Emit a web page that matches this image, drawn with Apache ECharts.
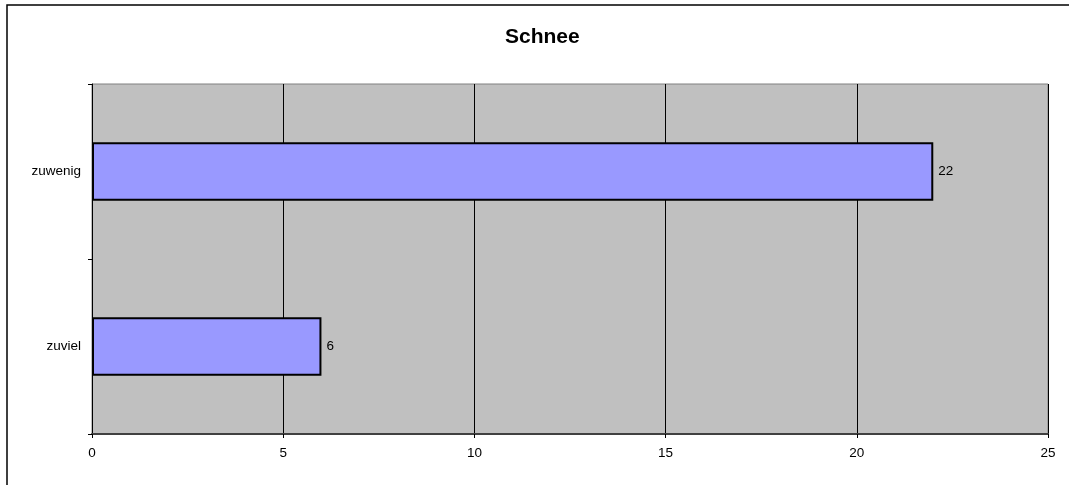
<!DOCTYPE html>
<html>
<head>
<meta charset="utf-8">
<script src="https://cdn.jsdelivr.net/npm/echarts@6/dist/echarts.min.js"></script>
<style>
  html, body { margin: 0; padding: 0; background: #fff; }
  #chart { width: 1069px; height: 485px; }
</style>
</head>
<body>
<div id="chart"></div>
<script>
// Chart data
const title = 'Schnee';
const categories = ['zuviel', 'zuwenig'];
const values = [6, 22];
const xTicks = { min: 0, max: 25, interval: 5 };

const chart = echarts.init(document.getElementById('chart'));
const font = 'Arial, "Liberation Sans", sans-serif';
const labelSize = 13.5;

chart.setOption({
  animation: false,
  backgroundColor: '#ffffff',
  title: {
    text: title,
    left: 500,
    top: 22,
    textStyle: { fontFamily: font, fontSize: 21, fontWeight: 'bold', color: '#000' }
  },
  graphic: [{
    // outer frame around the chart area
    type: 'rect',
    shape: { x: 7, y: 5, width: 1200, height: 600 },
    style: { fill: 'none', stroke: '#000', lineWidth: 1.5 },
    silent: true,
    z: -1
  }],
  grid: {
    left: 92, top: 84, right: 21, bottom: 51,
    show: true,
    backgroundColor: '#C0C0C0',
    borderColor: '#808080',
    borderWidth: 1
  },
  xAxis: {
    type: 'value',
    min: xTicks.min, max: xTicks.max, interval: xTicks.interval,
    axisLine: { show: true, lineStyle: { color: '#404040', width: 2 } },
    axisTick: { show: true, length: 4, lineStyle: { color: '#000' } },
    axisLabel: { margin: 12, fontFamily: font, fontSize: labelSize, color: '#000' },
    splitLine: { show: true, lineStyle: { color: '#000', width: 1 } }
  },
  yAxis: {
    type: 'category',
    data: categories,
    axisLine: { show: true, lineStyle: { color: '#000', width: 1 } },
    axisTick: { show: true, length: 4, lineStyle: { color: '#000' } },
    axisLabel: { margin: 11, fontFamily: font, fontSize: labelSize, color: '#000' },
    splitLine: { show: false }
  },
  series: [{
    type: 'bar',
    data: values,
    barWidth: '33.5%',
    itemStyle: { color: '#9999FF', borderColor: '#000', borderWidth: 2 },
    label: {
      show: true,
      position: 'right',
      distance: 5,
      fontFamily: font,
      fontSize: labelSize,
      color: '#000'
    }
  }]
});
</script>
</body>
</html>
